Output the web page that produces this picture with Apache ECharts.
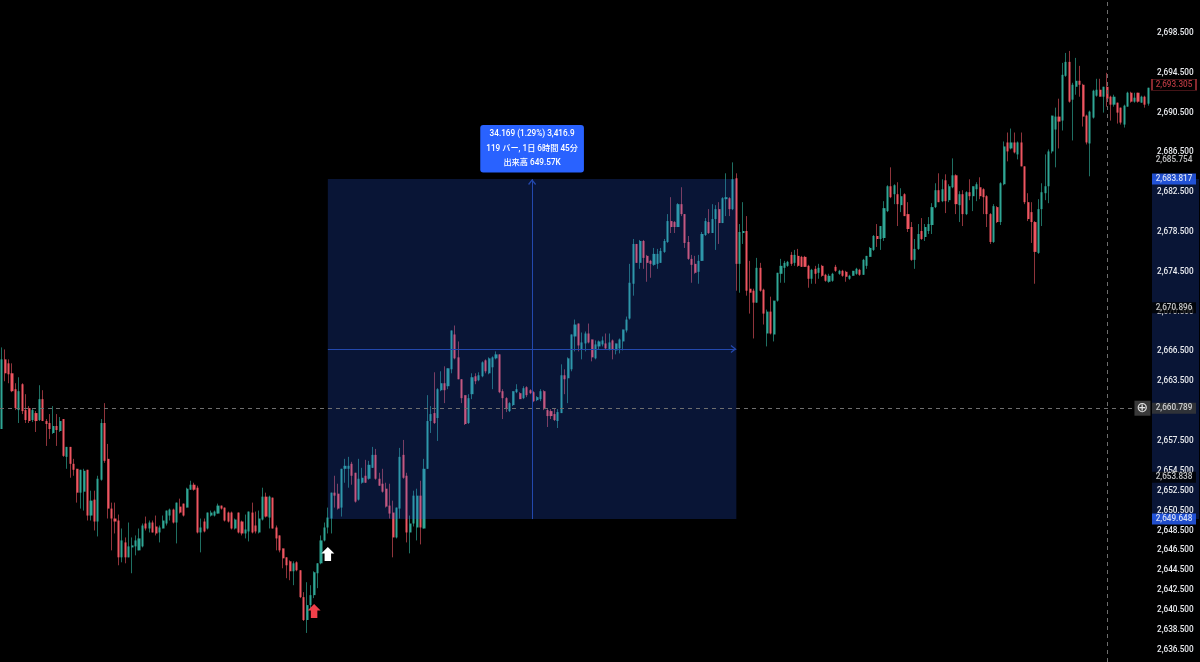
<!DOCTYPE html>
<html><head><meta charset="utf-8">
<style>html,body{margin:0;padding:0;background:#000}#c{width:1200px;height:662px}</style>
<script src="https://cdn.jsdelivr.net/npm/echarts@6/dist/echarts.min.js"></script>
</head><body><div id="c"></div>
<script>
// [open, close, low, high]
const barsDecline = [
[2658.7,2665.7,2658.7,2666.9],[2665.7,2664.3,2663.5,2666.7],[2665.3,2664.2,2663.3,2665.7],[2664.3,2662.5,2662.4,2665.3],[2662.7,2660.8,2660.6,2663.3],
[2660.6,2662.5,2659.3,2663.9],[2663.2,2660.5,2660.2,2663.3],[2660.6,2659.6,2659.3,2662.2],[2660.8,2659.5,2659.3,2661.0],[2659.6,2660.6,2659.4,2660.8],
[2660.3,2659.5,2658.4,2660.5],[2659.6,2661.7,2659.5,2663.1],[2661.7,2659.5,2659.5,2662.6],[2659.5,2659.2,2657.0,2659.7],[2659.3,2658.7,2657.7,2660.2],
[2658.3,2659.0,2658.2,2661.0],[2659.0,2658.6,2657.0,2660.2],[2658.5,2659.5,2658.4,2659.9],[2659.7,2656.0,2655.9,2659.7],[2655.9,2656.9,2654.7,2656.9],
[2656.9,2655.2,2653.8,2656.9],[2655.2,2654.6,2654.0,2655.7],[2654.7,2652.3,2651.3,2654.7],[2652.3,2654.6,2650.7,2654.6],[2652.4,2654.5,2650.5,2654.7],
[2654.6,2650.0,2649.5,2654.6],[2650.0,2651.5,2649.5,2652.5],[2651.6,2649.4,2648.5,2652.5],[2649.4,2653.7,2647.9,2654.0],[2653.6,2659.3,2653.5,2659.7],
[2659.3,2655.5,2655.3,2661.3],[2655.7,2650.7,2649.7,2657.2],[2650.7,2649.7,2646.5,2651.3],[2649.7,2649.4,2648.2,2651.3],[2649.5,2645.8,2645.0,2650.1],
[2645.8,2647.5,2645.3,2648.7],[2647.3,2645.8,2645.2,2647.8],[2645.8,2646.9,2645.8,2649.3],[2646.8,2647.0,2644.2,2647.8],[2646.9,2647.5,2646.0,2648.0],
[2646.5,2647.7,2646.5,2648.7],[2646.9,2649.0,2646.8,2649.2],[2649.2,2648.7,2648.5,2649.9],[2648.7,2649.3,2648.3,2649.5],[2649.3,2648.3,2648.3,2649.5],
[2648.9,2648.2,2648.0,2650.0],[2648.3,2648.8,2647.3,2649.0],[2648.7,2649.5,2648.7,2650.0],[2649.2,2650.5,2649.0,2650.5],[2650.0,2650.6,2649.5,2650.7],
[2650.6,2649.3,2649.2,2650.7],[2649.3,2651.3,2647.2,2651.3],[2650.9,2650.3,2650.2,2651.7],[2651.2,2650.0,2649.9,2651.2],[2650.8,2652.7,2650.8,2652.8],
[2652.6,2653.1,2652.6,2653.5],[2653.1,2652.6,2652.5,2653.3],[2652.8,2648.3,2648.2,2653.0],[2648.3,2648.8,2646.3,2649.7],[2649.4,2648.4,2648.3,2649.7],
[2648.7,2650.3,2648.6,2650.3],[2650.0,2650.3,2649.9,2650.5],[2650.0,2650.4,2649.9,2650.5],[2650.2,2651.0,2650.2,2651.2],[2651.0,2650.7,2650.6,2651.0],
[2650.8,2649.5,2649.4,2650.8],[2650.3,2649.4,2649.3,2650.4],[2650.3,2648.7,2648.6,2650.4],[2648.7,2649.6,2648.6,2649.7],[2650.3,2648.3,2648.2,2650.3],
[2649.4,2648.2,2648.0,2649.5],[2648.2,2648.6,2647.7,2650.1],[2648.4,2650.4,2647.4,2650.4],[2650.3,2648.3,2648.2,2651.3],[2649.0,2648.4,2648.2,2650.4],
[2648.3,2649.7,2648.2,2650.5],[2649.6,2651.9,2649.5,2652.8],[2651.9,2649.9,2649.8,2652.3],[2649.8,2651.9,2648.7,2652.0],[2651.8,2648.7,2648.7,2651.8],
[2648.8,2647.7,2646.5,2649.0],[2648.0,2646.5,2646.3,2648.0],[2646.7,2645.7,2644.7,2646.7],[2645.8,2645.0,2643.7,2645.8],[2645.4,2644.4,2643.5,2645.5],
[2644.4,2645.2,2643.0,2645.4],[2645.3,2644.5,2644.4,2645.4],[2644.5,2641.8,2641.7,2644.5],[2641.8,2639.5,2639.4,2642.3],[2639.5,2641.0,2638.2,2643.3],
[2641.0,2642.0,2640.7,2643.0],[2642.0,2644.3,2641.7,2644.4],[2644.2,2645.2,2642.7,2645.2],[2645.2,2647.5,2645.1,2648.0],[2647.5,2648.8,2647.4,2649.3],
[2648.8,2649.8,2648.2,2650.8]];
const barsRulerFirst = [
[2649.7,2652.3,2648.2,2652.3],[2652.3,2652.0,2650.8,2654.0],[2652.2,2650.7,2650.6,2653.2],[2650.8,2654.7,2649.9,2654.7],[2654.7,2655.0,2653.3,2655.7],
[2654.7,2655.0,2652.8,2655.9],[2655.2,2654.0,2653.1,2655.4],[2654.3,2651.4,2651.3,2654.3],[2651.6,2653.7,2651.5,2655.7],[2653.3,2653.8,2653.2,2654.8],
[2654.0,2653.3,2653.3,2655.6],[2653.7,2655.1,2653.6,2655.5],[2654.8,2656.1,2654.8,2656.9],[2656.1,2653.7,2653.6,2656.7],[2653.7,2653.0,2653.0,2654.3],
[2653.2,2652.4,2652.3,2654.7],[2652.7,2650.9,2650.8,2653.3],[2651.0,2650.2,2649.7,2653.2],[2650.3,2647.8,2645.8,2651.5],[2647.8,2650.8,2647.7,2650.8],
[2650.7,2655.9,2649.7,2656.8],[2656.1,2653.8,2653.7,2657.6],[2654.0,2648.3,2647.3,2654.3],[2648.3,2649.2,2646.2,2650.0],[2649.2,2652.0,2648.9,2652.5],
[2648.8,2652.0,2647.5,2652.7],[2652.0,2648.8,2647.1,2653.5],[2648.7,2654.7,2648.7,2655.7],[2654.7,2659.5,2654.7,2662.1],[2659.5,2660.2,2658.3,2661.0],
[2660.3,2659.3,2659.2,2664.4],[2659.8,2662.7,2657.5,2662.8],[2662.6,2663.3,2662.5,2664.5],[2663.3,2662.6,2661.3,2665.0],[2663.0,2664.8,2662.7,2664.8],
[2664.7,2668.6,2664.3,2668.6],[2668.2,2665.8,2665.7,2669.1],[2665.9,2663.7,2663.7,2667.5],[2663.7,2661.8,2661.3,2663.7],[2662.1,2659.2,2659.1,2662.1],
[2659.3,2661.8,2659.2,2662.2],[2662.2,2663.9,2661.7,2664.3],[2664.0,2663.5,2663.2,2664.3],[2663.6,2664.1,2663.5,2664.4],[2664.0,2665.4,2663.9,2665.5],
[2665.6,2664.5,2664.3,2665.7],[2664.3,2665.8,2664.2,2665.9],[2664.9,2665.9,2662.7,2666.0],[2665.8,2666.2,2665.7,2666.5],[2666.2,2662.4,2662.3,2666.2],
[2662.5,2661.8,2659.7,2662.7],[2661.8,2660.7,2660.4,2661.9],[2660.5,2661.3,2660.4,2661.4],[2661.1,2662.5,2661.0,2662.5],[2662.4,2662.7,2662.3,2663.2],
[2662.3,2661.7,2661.7,2662.4],[2661.8,2662.8,2661.7,2663.0],[2662.9,2662.1,2661.9,2663.0],[2662.6,2662.3,2662.2,2662.7],[2662.4,2661.5,2661.4,2662.5],
[2661.6,2661.9,2661.5,2662.0],[2661.7,2662.5,2661.5,2662.7],[2662.5,2660.7,2660.6,2662.6],[2660.6,2660.0,2658.9,2660.7],[2660.5,2660.0,2659.7,2660.7],
[2660.2,2659.6,2659.5,2660.8],[2659.5,2660.4,2658.8,2660.7],[2660.3,2664.1,2660.3,2665.2],[2664.1,2663.7,2662.2,2664.7],[2663.8,2665.8,2661.3,2665.9],
[2664.7,2668.2,2664.5,2668.2],[2668.0,2669.2,2666.5,2669.7],[2669.3,2667.1,2666.5,2669.3],[2666.7,2667.4,2665.7,2668.4],[2667.3,2668.3,2666.5,2668.5],
[2668.3,2667.4,2667.3,2669.3],[2667.7,2665.9,2665.5,2667.7],[2665.8,2667.2,2665.7,2667.6],[2667.0,2667.5,2666.7,2667.6],[2667.2,2667.6,2667.0,2668.0],
[2667.3,2666.8,2666.7,2668.3],[2666.7,2667.4,2666.6,2668.3],[2667.6,2666.7,2665.7,2667.7],[2666.6,2667.3,2666.2,2667.3],[2666.8,2667.7,2666.3,2667.8],
[2667.5,2668.7,2666.6,2668.7],[2668.6,2669.7,2668.4,2670.0]];
const barsRulerSecond = [
[2669.8,2673.4,2669.7,2675.3],[2673.3,2677.3,2672.1,2677.8],[2677.3,2675.4,2675.4,2677.3],[2675.4,2677.6,2674.8,2677.7],[2677.6,2675.9,2674.8,2677.7],
[2676.1,2675.4,2673.5,2676.2],[2675.6,2675.3,2673.9,2675.7],[2675.2,2676.3,2675.1,2676.9],[2675.3,2676.3,2674.8,2676.8],[2675.4,2676.6,2675.4,2676.9],
[2676.5,2677.6,2676.4,2677.8],[2677.5,2679.6,2677.4,2680.3],[2679.6,2679.0,2678.4,2682.0],[2679.5,2679.0,2678.4,2679.6],[2679.0,2681.3,2679.0,2681.4],
[2681.3,2680.3,2680.1,2683.0],[2680.3,2677.4,2676.9,2680.3],[2677.5,2675.8,2675.7,2678.1],[2675.8,2675.2,2673.4,2676.2],[2675.3,2674.4,2674.3,2676.1],
[2674.5,2675.6,2673.3,2676.2],[2675.6,2678.3,2675.6,2678.5],[2678.2,2679.6,2678.1,2679.9],[2679.5,2678.4,2678.3,2680.8],[2678.4,2679.8,2678.4,2681.3],
[2679.8,2680.8,2676.7,2681.2],[2680.8,2679.4,2677.3,2681.5],[2679.4,2681.9,2679.4,2682.0],[2681.8,2682.0,2680.1,2684.4],[2681.9,2680.8,2680.1,2682.0],
[2680.8,2683.8,2680.7,2685.5]];
const barsAfterRuler = [
[2683.9,2675.3,2672.6,2684.4],[2675.3,2678.5,2672.4,2679.3],[2678.4,2678.6,2677.3,2681.5],[2678.6,2672.6,2672.1,2680.1],[2672.8,2672.4,2670.3,2675.6],
[2672.6,2671.4,2667.8,2672.8],[2671.4,2674.9,2671.4,2675.9],[2674.9,2672.6,2672.5,2675.4],[2672.7,2670.3,2669.2,2672.8],[2668.3,2670.5,2667.0,2670.7],
[2670.5,2668.3,2668.2,2672.0],[2668.2,2671.6,2667.5,2671.6],[2671.6,2674.4,2671.5,2674.4],[2674.3,2675.1,2673.4,2675.8],[2674.9,2675.4,2673.4,2675.6],
[2675.1,2675.5,2675.0,2675.6],[2676.2,2675.3,2675.1,2676.5],[2675.4,2676.2,2675.1,2676.7],[2676.1,2675.1,2675.0,2676.8],[2676.0,2675.0,2675.0,2676.1],
[2676.0,2675.0,2675.0,2676.1],[2675.1,2673.8,2672.9,2675.2],[2673.8,2674.7,2673.3,2674.8],[2674.8,2674.3,2673.3,2675.1],[2674.4,2674.9,2673.8,2675.3],
[2675.1,2674.1,2674.0,2675.2],[2674.2,2673.6,2673.5,2674.3],[2673.5,2674.1,2673.4,2674.3],[2673.6,2674.3,2673.5,2674.4]];
const barsRally = [
[2675.0,2674.6,2674.5,2675.2],[2674.3,2674.6,2674.2,2674.7],[2674.6,2674.1,2674.0,2674.7],[2674.5,2674.0,2673.5,2674.6],[2673.8,2674.1,2673.7,2674.2],
[2674.1,2674.6,2674.1,2674.6],[2674.3,2674.8,2674.2,2674.9],[2674.7,2674.2,2674.1,2674.8],[2674.2,2675.7,2674.2,2675.8],[2675.1,2676.1,2674.8,2676.1],
[2676.0,2676.9,2676.0,2677.0],[2676.7,2678.1,2676.6,2678.2],[2678.1,2677.8,2677.0,2679.3],[2677.8,2679.1,2676.7,2679.1],[2677.9,2680.9,2677.6,2681.6],
[2680.6,2683.1,2680.5,2683.2],[2683.1,2682.0,2681.9,2685.0],[2682.3,2683.2,2681.3,2683.3],[2682.3,2681.3,2679.1,2683.5],[2681.2,2682.1,2680.5,2682.9],
[2682.3,2680.1,2680.1,2682.4],[2680.3,2678.8,2678.5,2681.5],[2679.0,2675.7,2675.6,2679.5],[2675.7,2676.8,2674.8,2677.8],[2676.8,2678.3,2676.7,2679.3],
[2678.6,2677.8,2677.7,2679.9],[2678.0,2679.0,2677.6,2679.3],[2678.6,2679.3,2678.3,2680.0],[2679.2,2681.0,2678.3,2681.4],[2681.0,2682.7,2680.9,2683.4],
[2682.7,2681.5,2681.5,2684.4],[2681.6,2682.8,2681.5,2683.8],[2683.7,2681.6,2680.4,2684.3],[2681.7,2683.1,2681.5,2683.3],[2683.0,2684.2,2682.9,2685.9],
[2684.2,2681.3,2680.3,2684.3],[2681.2,2682.3,2679.5,2682.6],[2682.3,2680.3,2679.1,2682.7],[2680.3,2682.5,2680.2,2682.6],[2682.5,2682.1,2681.7,2683.8],
[2682.1,2683.1,2680.6,2683.1],[2682.8,2683.3,2681.6,2683.5],[2683.0,2682.1,2681.8,2684.0],[2682.8,2682.0,2680.3,2682.9],[2682.1,2680.3,2679.0,2682.2],
[2680.3,2677.5,2677.3,2680.4],[2677.5,2681.1,2677.4,2681.3],[2681.0,2679.5,2679.4,2681.1],[2679.5,2683.4,2679.2,2683.5],[2683.3,2687.1,2683.2,2687.6],
[2687.5,2686.6,2685.6,2688.5],[2686.9,2687.5,2686.8,2688.9],[2687.5,2686.5,2686.4,2688.5],[2686.3,2687.5,2685.8,2687.6],[2687.5,2685.1,2685.1,2688.5],
[2685.1,2681.5,2681.3,2685.1],[2681.5,2679.8,2679.6,2682.4],[2680.5,2679.5,2677.4,2681.5],[2679.5,2676.5,2673.3,2679.6],[2676.4,2680.8,2676.3,2681.8],
[2680.8,2682.5,2679.1,2683.4],[2682.4,2683.1,2681.7,2686.3],[2683.1,2686.6,2681.4,2686.8],[2686.6,2690.2,2686.4,2690.2],[2688.8,2690.1,2685.0,2691.0],
[2690.1,2689.6,2686.9,2691.9],[2689.7,2694.3,2688.7,2695.5],[2694.2,2695.6,2694.1,2696.5],[2695.6,2691.6,2691.5,2696.7],[2691.8,2693.3,2687.7,2693.5],
[2693.1,2693.7,2692.3,2696.0],[2693.7,2693.3,2692.1,2695.2],[2693.3,2690.1,2689.1,2693.4],[2690.2,2687.5,2687.3,2690.3],[2687.4,2690.6,2684.1,2690.7],
[2690.0,2692.7,2689.9,2692.8],[2692.2,2692.8,2692.1,2693.9],[2692.8,2692.1,2692.1,2693.9],[2692.1,2693.1,2690.5,2693.1],[2693.1,2691.9,2691.1,2694.5],
[2692.1,2691.3,2689.7,2692.2],[2691.3,2692.1,2691.1,2692.3],[2691.5,2690.5,2689.4,2691.5],[2691.0,2689.5,2689.3,2691.0],[2689.3,2691.2,2689.0,2691.3],
[2691.1,2692.5,2691.1,2692.6],[2692.5,2691.6,2691.5,2692.6],[2691.6,2692.0,2691.5,2692.5],[2692.5,2691.6,2691.5,2692.5],[2691.5,2692.1,2691.5,2692.2],
[2692.1,2691.3,2691.0,2692.2],[2691.4,2693.0,2691.2,2693.0]];
const axisTicks = [2698.5,2694.5,2690.5,2686.5,2682.5,2678.5,2674.5,2670.5,2666.5,2663.5,2657.5,2654.5,2652.5,2650.5,2648.5,2646.5,2644.5,2642.5,2640.5,2638.5,2636.5];
const rulerFrom = 2649.648, rulerTo = 2683.817;
const rulerStartBar = 95, rulerEndBar = 214;
const lastPrice = 2693.305, crossPrice = 2660.789, crossBar = 322;
const plainTags = [2685.754, 2670.896, 2653.838];
const rulerText = ['34.169 (1.29%) 3,416.9', '119 バー, 1日 6時間 45分', '出来高 649.57K'];
const entryArrow = [95, 2646.14], bottomArrow = [91, 2640.4];

const FONT = 'Roboto,"Noto Sans CJK JP",sans-serif';
const bars = [...barsDecline, ...barsRulerFirst, ...barsRulerSecond, ...barsAfterRuler, ...barsRally];
const cats = bars.map((_, i) => i);
const Y_MIN = 2635.28, Y_MAX = 2701.82;
const fmt = v => v.toLocaleString('en-US', {minimumFractionDigits: 3, maximumFractionDigits: 3});
const UP = '#2fa695', DOWN = '#ee5560', UP_W = '#1f6f62', DOWN_W = '#8f343b', BLUE = '#2962ff';
const tag = (v, bg, fg, border) => ({
  value: [22, v],
  itemStyle: {color: bg, borderColor: border || bg, borderWidth: border ? 1 : 0},
  label: {color: fg}
});
// bar index -> position on the overlay axis (bar centres sit half a slot in)
const at = i => i + 0.5;
const midBar = at((rulerStartBar + rulerEndBar) / 2), midPrice = (rulerFrom + rulerTo) / 2;
const arrowPath = 'path://M5 0 L10 6 L7.5 6 L7.5 13 L2.5 13 L2.5 6 L0 6 Z';
// open chevron whose tip is the centre of the path's 12x12 box, so the tip lands on the line's end
const chevron = 'path://M-2 -6 L-2 -6 Z M10 6 L10 6 Z M4 0 L8 5 L7 5.8 L4 2 L1 5.8 L0 5 Z';
const rulerLine = {color: '#2348ad', width: 1, type: 'solid'};
const crossLine = {color: '#6e6e6e', width: 1, type: [4, 4]};

const chart = echarts.init(document.getElementById('c'), null, {renderer: 'canvas'});
chart.setOption({
  animation: false,
  backgroundColor: '#000',
  tooltip: {show: false},
  grid: [
    {left: -1, top: 0, width: 1151, height: 662},
    {left: 1152, top: 0, width: 47, height: 662}
  ],
  xAxis: [
    {type: 'category', data: cats, gridIndex: 0, boundaryGap: true, axisLine: {show: false}, axisTick: {show: false}, axisLabel: {show: false}, splitLine: {show: false}},
    {type: 'value', min: 0, max: 47, gridIndex: 1, show: false},
    {type: 'value', min: 0, max: bars.length, gridIndex: 0, show: false}
  ],
  yAxis: [
    {type: 'value', min: Y_MIN, max: Y_MAX, gridIndex: 0, show: false, splitLine: {show: false}},
    {type: 'value', min: Y_MIN, max: Y_MAX, gridIndex: 1, position: 'left', z: 3,
      axisLine: {show: false}, axisTick: {show: false}, splitLine: {show: false},
      axisLabel: {inside: true, margin: 5, align: 'left', color: '#e8eaee', fontFamily: FONT, fontSize: 8.2, fontWeight: 500,
        padding: [3, 0, 0, 0], customValues: axisTicks, formatter: v => fmt(v)}}
  ],
  series: [
    {name: 'wicks', type: 'candlestick', data: bars, barWidth: 1, z: 2, progressive: 0, large: false, silent: true,
      itemStyle: {color: UP_W, color0: DOWN_W, borderColor: UP_W, borderColor0: DOWN_W, borderWidth: 1}},
    {name: 'bodies', type: 'candlestick', barWidth: 2.6, z: 3, progressive: 0, large: false, silent: true,
      data: bars.map(b => [b[0], b[1], Math.min(b[0], b[1]), Math.max(b[0], b[1])]),
      itemStyle: {color: UP, color0: DOWN, borderColor: UP, borderColor0: DOWN, borderWidth: 0}},
    {name: 'ruler', type: 'line', xAxisIndex: 2, data: [], z: 5, silent: true, symbol: 'none',
      markArea: {silent: true, z: 4, itemStyle: {color: 'rgba(41,98,255,0.21)'},
        data: [[{xAxis: at(rulerStartBar), yAxis: rulerTo}, {xAxis: at(rulerEndBar), yAxis: rulerFrom}]]},
      markLine: {silent: true, z: 5, animation: false, label: {show: false}, symbol: ['none', 'none'],
        data: [
          [{coord: [midBar, rulerFrom], lineStyle: rulerLine, symbol: 'none'}, {coord: [midBar, rulerTo], symbol: chevron, symbolSize: 12}],
          [{coord: [at(rulerStartBar), midPrice], lineStyle: rulerLine, symbol: 'none'}, {coord: [at(rulerEndBar), midPrice], symbol: chevron, symbolSize: 12}],
          [{coord: [0, crossPrice], lineStyle: crossLine}, {coord: [at(331), crossPrice]}],
          [{coord: [at(crossBar), Y_MIN], lineStyle: crossLine}, {coord: [at(crossBar), Y_MAX]}]
        ]},
      markPoint: {silent: true, z: 7, animation: false,
        data: [
          {coord: [at(entryArrow[0]), entryArrow[1]], symbol: arrowPath, symbolSize: [13, 14], itemStyle: {color: '#fff'}, label: {show: false}},
          {coord: [at(bottomArrow[0]), bottomArrow[1]], symbol: arrowPath, symbolSize: [13, 14], itemStyle: {color: '#f0404a'}, label: {show: false}},
          {coord: [midBar, rulerTo], symbol: 'rect', symbolSize: 1, itemStyle: {color: 'transparent'},
            label: {show: true, position: 'top', distance: 6, formatter: rulerText.join('\n'), color: '#fff', fontFamily: FONT, fontSize: 8.2, fontWeight: 500,
              lineHeight: 14.5, align: 'center', backgroundColor: BLUE, borderRadius: 3, padding: [2, 6, 2, 6]}},
          {coord: [at(332.3), crossPrice], symbol: 'rect', symbolSize: [16, 15], itemStyle: {color: '#3a3a3a'},
            label: {show: true, position: 'inside', formatter: '⊕', color: '#e4e4e4', fontFamily: '"DejaVu Sans"', fontSize: 14}}
        ]}},
    {name: 'tags', type: 'scatter', xAxisIndex: 1, yAxisIndex: 1, z: 6, silent: true, symbol: 'rect', symbolSize: [44, 11],
      data: [
        tag(lastPrice, '#000', '#d8434d', '#a8323a'),
        ...plainTags.map(v => tag(v, '#000', '#f0f1f3')),
        tag(rulerTo, BLUE, '#fff'), tag(rulerFrom, BLUE, '#fff'),
        tag(crossPrice, '#3a3a3a', '#f0f1f3')
      ],
      label: {show: true, position: 'inside', fontFamily: FONT, fontSize: 8.2, fontWeight: 500, padding: [2, 0, 0, 0], formatter: p => fmt(p.value[1])},
      markArea: {silent: true, z: 1, itemStyle: {color: 'rgba(41,98,255,0.21)'},
        data: [[{xAxis: 0, yAxis: rulerTo}, {xAxis: 47, yAxis: rulerFrom}]]}}
  ]
});
</script></body></html>
